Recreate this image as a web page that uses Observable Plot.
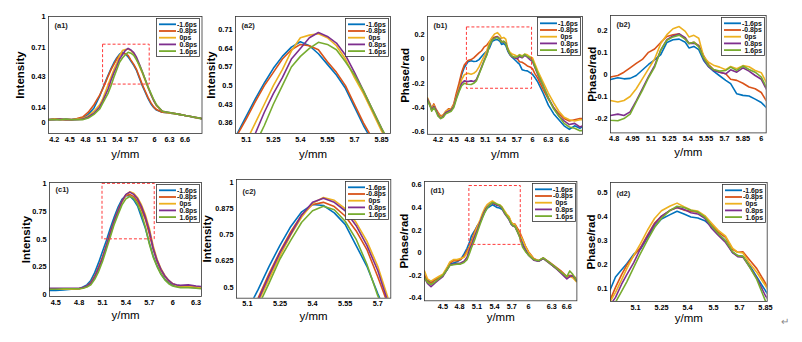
<!DOCTYPE html>
<html><head><meta charset="utf-8">
<script src="https://cdn.jsdelivr.net/npm/d3@7"></script>
<script src="https://cdn.jsdelivr.net/npm/@observablehq/plot@0.6"></script>
<style>
body{margin:0;background:#fff;}
#wrap{position:relative;width:802px;height:342px;overflow:hidden;background:#fff;font-family:"Liberation Sans",Arial,sans-serif;}
svg.pan{font-family:"Liberation Sans",Arial,sans-serif;font-size:7.3px;font-weight:bold;background:transparent !important;overflow:visible;}
svg.pan g[aria-label="x-axis label"]{font-size:11.5px;font-weight:normal;}
svg.pan g[aria-label="y-axis label"]{font-size:11.5px;font-weight:bold;}
.enter{position:absolute;left:781px;top:316px;font-size:10px;color:#888;}
</style></head><body><div id="wrap"></div>
<script>
const seriesNames = ["-1.6ps","-0.8ps","0ps","0.8ps","1.6ps"];
const seriesColors = ["#0072BD","#D95319","#EDB120","#7E2F8E","#77AC30"];

// ---- (a) intensity, delay scan 1
const xA = [4.1,4.2,4.3,4.4,4.5,4.6,4.7,4.8,4.9,5.0,5.05,5.1,5.15,5.2,5.25,5.3,5.35,5.4,5.45,5.5,5.55,5.6,5.65,5.7,5.75,5.8,5.85,5.9,5.95,6.0,6.1,6.2,6.3,6.4,6.5,6.6,6.7,6.8];
const aBlue   = [0.03,0.035,0.03,0.035,0.03,0.035,0.045,0.08,0.14,0.25,0.32,0.385,0.45,0.51,0.565,0.61,0.645,0.665,0.65,0.62,0.58,0.54,0.49,0.42,0.35,0.29,0.23,0.18,0.145,0.12,0.1,0.095,0.085,0.08,0.07,0.06,0.045,0.04];
const aOrange = [0.03,0.035,0.035,0.03,0.03,0.04,0.055,0.1,0.17,0.26,0.315,0.375,0.44,0.5,0.55,0.6,0.635,0.655,0.65,0.635,0.59,0.55,0.5,0.43,0.36,0.3,0.24,0.19,0.15,0.125,0.1,0.095,0.09,0.08,0.07,0.06,0.05,0.04];
const aYellow = [0.03,0.035,0.03,0.03,0.03,0.035,0.04,0.065,0.11,0.17,0.22,0.29,0.36,0.43,0.5,0.56,0.63,0.68,0.69,0.695,0.68,0.65,0.6,0.53,0.47,0.4,0.33,0.27,0.21,0.16,0.11,0.095,0.085,0.08,0.07,0.06,0.045,0.04];
const aPurple = [0.03,0.03,0.035,0.03,0.03,0.03,0.035,0.055,0.09,0.15,0.2,0.26,0.32,0.4,0.47,0.53,0.6,0.64,0.68,0.70,0.685,0.66,0.615,0.55,0.48,0.41,0.34,0.27,0.21,0.165,0.11,0.1,0.09,0.08,0.07,0.06,0.05,0.04];
const aGreen  = [0.03,0.03,0.03,0.035,0.03,0.03,0.03,0.045,0.08,0.13,0.18,0.23,0.28,0.35,0.43,0.5,0.57,0.61,0.64,0.663,0.655,0.635,0.59,0.54,0.48,0.41,0.34,0.28,0.22,0.17,0.11,0.1,0.09,0.08,0.07,0.06,0.05,0.04];

// ---- (b) phase, delay scan 1
const xB = [4.0,4.05,4.08,4.12,4.16,4.2,4.25,4.3,4.35,4.4,4.45,4.5,4.55,4.6,4.65,4.7,4.77,4.83,4.88,4.93,4.98,5.03,5.08,5.13,5.18,5.23,5.28,5.33,5.38,5.41,5.45,5.49,5.53,5.57,5.61,5.66,5.71,5.75,5.8,5.85,5.9,5.95,6.0,6.04,6.1,6.2,6.3,6.4,6.5,6.6,6.7,6.8,6.9,6.95];
const bBlue   = [-0.33,-0.38,-0.42,-0.38,-0.42,-0.45,-0.48,-0.47,-0.44,-0.42,-0.42,-0.38,-0.3,-0.22,-0.13,-0.07,-0.023,-0.015,-0.02,-0.018,-0.005,0.02,0.045,0.066,0.09,0.145,0.157,0.16,0.146,0.12,0.127,0.112,0.063,0.035,0.015,-0.006,-0.027,-0.042,-0.088,-0.095,-0.098,-0.112,-0.127,-0.15,-0.19,-0.28,-0.38,-0.45,-0.5,-0.55,-0.58,-0.55,-0.57,-0.56];
const bOrange = [-0.33,-0.38,-0.41,-0.37,-0.41,-0.44,-0.47,-0.46,-0.43,-0.41,-0.41,-0.37,-0.28,-0.2,-0.11,-0.05,-0.012,-0.005,0.01,0.03,0.05,0.068,0.1,0.115,0.145,0.172,0.18,0.184,0.16,0.14,0.146,0.13,0.085,0.045,0.022,0.01,0.003,-0.022,-0.027,-0.04,-0.057,-0.065,-0.082,-0.118,-0.16,-0.25,-0.33,-0.4,-0.45,-0.49,-0.51,-0.5,-0.49,-0.49];
const bYellow = [-0.32,-0.37,-0.41,-0.38,-0.42,-0.45,-0.48,-0.46,-0.43,-0.42,-0.41,-0.38,-0.31,-0.24,-0.17,-0.13,-0.118,-0.125,-0.118,-0.1,-0.065,-0.02,0.025,0.07,0.14,0.18,0.207,0.217,0.195,0.17,0.177,0.164,0.08,0.055,0.042,0.033,0.021,0.036,0.026,0.04,0.035,0.018,0.008,-0.035,-0.1,-0.19,-0.28,-0.36,-0.43,-0.48,-0.5,-0.51,-0.5,-0.5];
const bPurple = [-0.33,-0.38,-0.42,-0.39,-0.42,-0.46,-0.49,-0.47,-0.44,-0.43,-0.42,-0.39,-0.32,-0.26,-0.2,-0.18,-0.186,-0.18,-0.186,-0.17,-0.12,-0.065,-0.01,0.04,0.11,0.157,0.174,0.183,0.166,0.14,0.142,0.13,0.07,0.035,0.018,0.01,0.003,0.021,0.01,0.03,0.015,-0.005,-0.022,-0.065,-0.13,-0.22,-0.32,-0.4,-0.47,-0.51,-0.54,-0.53,-0.56,-0.55];
const bGreen  = [-0.34,-0.39,-0.43,-0.4,-0.43,-0.47,-0.49,-0.48,-0.45,-0.44,-0.43,-0.4,-0.33,-0.27,-0.22,-0.2,-0.208,-0.21,-0.2,-0.18,-0.125,-0.072,-0.015,0.033,0.11,0.155,0.17,0.178,0.16,0.14,0.146,0.125,0.075,0.04,0.022,0.015,0.018,0.033,0.018,0.038,0.022,0.01,-0.012,-0.057,-0.12,-0.22,-0.32,-0.41,-0.47,-0.53,-0.56,-0.57,-0.59,-0.59];

// ---- (c) intensity, delay scan 2
const xC = [4.42,4.5,4.6,4.7,4.8,4.85,4.9,4.95,5.0,5.05,5.1,5.15,5.2,5.25,5.3,5.35,5.4,5.45,5.5,5.55,5.6,5.65,5.7,5.75,5.8,5.85,5.9,5.95,6.0,6.05,6.1,6.2,6.3,6.37];
const cBlue   = [0.04,0.04,0.045,0.05,0.055,0.07,0.09,0.13,0.2,0.29,0.39,0.49,0.6,0.70,0.79,0.86,0.895,0.89,0.855,0.8,0.7,0.6,0.47,0.35,0.26,0.19,0.14,0.11,0.09,0.078,0.072,0.07,0.065,0.06];
const cOrange = [0.05,0.05,0.05,0.05,0.055,0.065,0.08,0.11,0.17,0.25,0.34,0.45,0.565,0.67,0.765,0.845,0.895,0.905,0.885,0.84,0.77,0.68,0.55,0.41,0.3,0.22,0.165,0.125,0.1,0.085,0.075,0.075,0.07,0.065];
const cYellow = [0.05,0.05,0.05,0.05,0.055,0.06,0.075,0.1,0.155,0.23,0.32,0.43,0.54,0.65,0.75,0.835,0.9,0.928,0.915,0.875,0.81,0.72,0.6,0.44,0.32,0.235,0.175,0.13,0.1,0.085,0.075,0.075,0.07,0.065];
const cPurple = [0.06,0.06,0.06,0.06,0.06,0.065,0.08,0.105,0.16,0.24,0.33,0.44,0.555,0.665,0.755,0.845,0.905,0.925,0.905,0.865,0.795,0.7,0.58,0.42,0.31,0.23,0.17,0.13,0.1,0.09,0.085,0.09,0.08,0.075];
const cGreen  = [0.05,0.05,0.055,0.055,0.055,0.06,0.07,0.09,0.14,0.21,0.3,0.41,0.52,0.635,0.725,0.81,0.865,0.886,0.87,0.815,0.73,0.61,0.46,0.34,0.255,0.185,0.135,0.1,0.08,0.07,0.065,0.065,0.06,0.055];

// ---- (d) phase, delay scan 2
const xD = [4.19,4.24,4.3,4.36,4.43,4.5,4.57,4.62,4.68,4.74,4.8,4.86,4.91,4.956,4.985,5.02,5.05,5.09,5.13,5.17,5.21,5.25,5.3,5.34,5.38,5.42,5.46,5.5,5.54,5.58,5.62,5.66,5.69,5.72,5.76,5.8,5.85,5.9,5.95,6.04,6.12,6.2,6.3,6.4,6.5,6.6,6.65,6.7,6.77];
const dBlue   = [-0.2,-0.24,-0.26,-0.24,-0.22,-0.2,-0.15,-0.1,-0.09,-0.08,-0.06,-0.01,0.04,0.1,0.15,0.18,0.205,0.245,0.267,0.315,0.36,0.392,0.41,0.424,0.413,0.4,0.396,0.385,0.36,0.329,0.301,0.252,0.239,0.236,0.197,0.15,0.093,0.04,-0.01,-0.06,-0.075,-0.05,-0.09,-0.13,-0.17,-0.22,-0.2,-0.21,-0.25];
const dOrange = [-0.2,-0.25,-0.27,-0.24,-0.22,-0.2,-0.14,-0.09,-0.07,-0.07,-0.06,-0.03,0.02,0.058,0.107,0.16,0.2,0.239,0.274,0.326,0.375,0.403,0.428,0.44,0.429,0.424,0.42,0.403,0.366,0.336,0.315,0.266,0.253,0.255,0.22,0.185,0.124,0.06,0.01,-0.05,-0.07,-0.045,-0.08,-0.12,-0.16,-0.21,-0.2,-0.2,-0.23];
const dYellow = [-0.16,-0.23,-0.25,-0.23,-0.21,-0.19,-0.13,-0.08,-0.06,-0.06,-0.05,-0.04,0.0,0.05,0.086,0.138,0.185,0.24,0.29,0.346,0.394,0.426,0.446,0.458,0.443,0.429,0.425,0.406,0.374,0.343,0.32,0.27,0.253,0.25,0.205,0.17,0.114,0.055,0.005,-0.055,-0.07,-0.05,-0.09,-0.13,-0.17,-0.22,-0.21,-0.22,-0.26];
const dPurple = [-0.22,-0.27,-0.3,-0.27,-0.24,-0.21,-0.15,-0.11,-0.1,-0.095,-0.09,-0.075,-0.04,0.035,0.065,0.12,0.16,0.21,0.27,0.32,0.37,0.404,0.428,0.44,0.432,0.418,0.413,0.395,0.352,0.322,0.294,0.252,0.235,0.233,0.19,0.145,0.072,0.02,-0.02,-0.065,-0.075,-0.05,-0.09,-0.13,-0.18,-0.23,-0.21,-0.2,-0.25];
const dGreen  = [-0.22,-0.26,-0.28,-0.26,-0.23,-0.2,-0.15,-0.11,-0.105,-0.1,-0.1,-0.085,-0.06,0.0,0.045,0.09,0.13,0.19,0.25,0.305,0.356,0.395,0.428,0.445,0.44,0.428,0.421,0.4,0.362,0.329,0.301,0.256,0.239,0.236,0.19,0.14,0.05,0.01,-0.02,-0.06,-0.07,-0.045,-0.085,-0.125,-0.17,-0.21,-0.16,-0.19,-0.25];

// ---- zoom windows (x1, x2, y1, y2) marked in the overview panels
const a1Box = [5.06, 5.88, 0.36, 0.735];
const b1Box = [4.75, 5.99, -0.245, 0.26];
const c1Box = [5.1, 5.77, 0.5, 1.0];
const d1Box = [4.95, 5.82, 0.07, 0.59];

// ---- tick values and labels
const a1XTicks = [4.202,4.475,4.751,5.032,5.31,5.586,5.965,6.228,6.501];
const a1XLabels = ["4.2","4.5","4.8","5.1","5.4","5.7","6","6.3","6.6"];
const a1YTicks = [0,0.14,0.43,0.71,1];
const a2XTicks = [5.1,5.25,5.4,5.55,5.7,5.85];
const a2XLabels = ["5.1","5.25","5.4","5.55","5.7","5.85"];
const a2YTicks = [0.36,0.43,0.5,0.57,0.64,0.71];
const b1XTicks = [4.2,4.5,4.8,5.1,5.4,5.7,6.0,6.3,6.6];
const b1XLabels = ["4.2","4.5","4.8","5.1","5.4","5.7","6","6.3","6.6"];
const b1YTicks = [-0.6,-0.4,-0.2,0,0.2];
const b2XTicks = [4.8,4.95,5.1,5.25,5.4,5.55,5.7,5.85,6.0];
const b2XLabels = ["4.8","4.95","5.1","5.25","5.4","5.55","5.7","5.85","6"];
const b2YTicks = [-0.2,-0.1,0,0.1,0.2];
const c1XTicks = [4.5,4.8,5.1,5.4,5.7,6.0,6.3];
const c1XLabels = ["4.5","4.8","5.1","5.4","5.7","6","6.3"];
const c1YTicks = [0,0.25,0.5,0.75,1];
const c2XTicks = [5.1,5.25,5.4,5.55,5.7];
const c2XLabels = ["5.1","5.25","5.4","5.55","5.7"];
const c2YTicks = [0.5,0.625,0.75,0.875,1];
const d1XTicks = [4.501,4.782,5.077,5.375,5.669,5.95,6.346,6.6];
const d1XLabels = ["4.5","4.8","5.1","5.4","5.7","6","6.3","6.6"];
const d1YTicks = [-0.4,-0.2,0,0.2,0.4,0.6];
const d2XTicks = [5.1,5.25,5.4,5.55,5.7,5.85];
const d2XLabels = ["5.1","5.25","5.4","5.5","5.7","5.85"];
const d2YTicks = [0.1,0.2,0.3,0.4,0.5];

function rows(xs, ys) {
  const out = [];
  ys.forEach((arr, k) => arr.forEach((v, i) => out.push({x: xs[i], y: v, s: seriesNames[k]})));
  return out;
}
const dataA = rows(xA, [aBlue, aOrange, aYellow, aPurple, aGreen]);
const dataB = rows(xB, [bBlue, bOrange, bYellow, bPurple, bGreen]);
const dataC = rows(xC, [cBlue, cOrange, cYellow, cPurple, cGreen]);
const dataD = rows(xD, [dBlue, dOrange, dYellow, dPurple, dGreen]);

const wrap = document.getElementById("wrap");

const panels = [
  {tag:"(a1)", data:dataA, frame:{l:47.5,t:16,r:201,b:133}, xDomain:[4.1,6.8], yDomain:[-0.1,1], xTicks:a1XTicks, xLabels:a1XLabels, yTicks:a1YTicks, box:a1Box, yLabel:"Intensity", ylabX:15, xlabOff:24, tagDy:9},
  {tag:"(a2)", data:dataA, frame:{l:235,t:16,r:390,b:133}, xDomain:[5.04,5.9], yDomain:[0.32,0.76], xTicks:a2XTicks, xLabels:a2XLabels, yTicks:a2YTicks, yLabel:"Intensity", ylabX:206, xlabOff:24, tagDy:9},
  {tag:"(b1)", data:dataB, frame:{l:426.7,t:15.5,r:581.7,b:133.3}, xDomain:[4.0,6.95], yDomain:[-0.62,0.35], xTicks:b1XTicks, xLabels:b1XLabels, yTicks:b1YTicks, box:b1Box, yLabel:"Phase/rad", ylabX:400.5, xlabOff:24, tagDy:9},
  {tag:"(b2)", data:dataB, frame:{l:610,t:15.3,r:765.7,b:132.7}, xDomain:[4.77,6.04], yDomain:[-0.265,0.267], xTicks:b2XTicks, xLabels:b2XLabels, yTicks:b2YTicks, yLabel:"Phase/rad", ylabX:587, xlabOff:23, tagDy:9},
  {tag:"(c1)", data:dataC, frame:{l:49,t:182,r:201,b:296}, xDomain:[4.42,6.37], yDomain:[-0.015,1.012], xTicks:c1XTicks, xLabels:c1XLabels, yTicks:c1YTicks, box:c1Box, yLabel:"Intensity", ylabX:21, xlabOff:22, tagDy:7},
  {tag:"(c2)", data:dataC, frame:{l:235.7,t:179,r:390,b:297.7}, xDomain:[5.05,5.76], yDomain:[0.448,1.014], xTicks:c2XTicks, xLabels:c2XLabels, yTicks:c2YTicks, yLabel:"Intensity", ylabX:202, xlabOff:22, tagDy:12},
  {tag:"(d1)", data:dataD, frame:{l:424.3,t:180.7,r:576.7,b:300}, xDomain:[4.19,6.77], yDomain:[-0.424,0.63], xTicks:d1XTicks, xLabels:d1XLabels, yTicks:d1YTicks, box:d1Box, yLabel:"Phase/rad", ylabX:399.5, xlabOff:20, tagDy:9},
  {tag:"(d2)", data:dataD, frame:{l:610,t:181.7,r:766.7,b:300.7}, xDomain:[4.956,5.86], yDomain:[0.048,0.544], xTicks:d2XTicks, xLabels:d2XLabels, yTicks:d2YTicks, yLabel:"Phase/rad", ylabX:586.5, xlabOff:21, tagDy:11}
];

function panel(p) {
  const mL = 50, mR = 4, mT = 4, mB = 34;
  const fw = p.frame.r - p.frame.l, fh = p.frame.b - p.frame.t;
  const xLab = new Map(p.xTicks.map((v, i) => [v, p.xLabels[i]]));
  const chart = Plot.plot({
    width: fw + mL + mR, height: fh + mT + mB,
    marginLeft: mL, marginRight: mR, marginTop: mT, marginBottom: mB,
    className: "pan",
    style: {background: "transparent", overflow: "visible"},
    x: {domain: p.xDomain, ticks: p.xTicks, tickFormat: d => xLab.get(d), tickSize: 0, tickPadding: 3,
        label: "y/mm", labelAnchor: "center", labelOffset: p.xlabOff, labelArrow: "none"},
    y: {domain: p.yDomain, ticks: p.yTicks, tickFormat: d => String(d), tickSize: 0, tickPadding: 3,
        label: p.yLabel, labelAnchor: "center", labelOffset: p.frame.l - p.ylabX, labelArrow: "none"},
    color: {domain: seriesNames, range: seriesColors},
    marks: [
      Plot.line(p.data, {x: "x", y: "y", z: "s", stroke: "s", strokeWidth: 1.6, clip: true}),
      p.box ? Plot.rect([p.box], {x1: d => d[0], x2: d => d[1], y1: d => d[2], y2: d => d[3],
        fill: "none", stroke: "#ff3838", strokeWidth: 1, strokeDasharray: "3,2"}) : null,
      Plot.frame({stroke: "#333", strokeWidth: 0.8}),
      Plot.text([p.tag], {text: d => d, frameAnchor: "top-left", dx: 6, dy: p.tagDy,
        textAnchor: "start", lineAnchor: "middle", fontSize: 7.5, fontWeight: "bold", fill: "#222"})
    ]
  });
  chart.style.position = "absolute";
  chart.style.left = (p.frame.l - mL) + "px";
  chart.style.top = (p.frame.t - mT) + "px";
  wrap.append(chart);

  // legend box
  const lw = 44, lh = 39;
  const lg = d3.create("svg").attr("width", lw).attr("height", lh)
    .style("position", "absolute")
    .style("left", (p.frame.r - lw - 1.2) + "px")
    .style("top", (p.frame.t + 1.8) + "px")
    .style("font-family", "'Liberation Sans', Arial, sans-serif");
  lg.append("rect").attr("x", 0.5).attr("y", 0.5).attr("width", lw - 1).attr("height", lh - 1)
    .attr("fill", "#fff").attr("stroke", "#333").attr("stroke-width", 0.8);
  seriesNames.forEach((n, i) => {
    const y = 6.3 + i * 6.7;
    lg.append("line").attr("x1", 3).attr("x2", 20).attr("y1", y).attr("y2", y)
      .attr("stroke", seriesColors[i]).attr("stroke-width", 1.8);
    lg.append("text").attr("x", n.startsWith("-") ? 21 : 23.5).attr("y", y).attr("dy", "0.35em")
      .attr("font-size", 6.9).attr("font-weight", "bold").attr("fill", "#111").text(n);
  });
  wrap.append(lg.node());
}
panels.forEach(panel);

const mark = document.createElement("div");
mark.className = "enter";
mark.textContent = "\u21B5";
wrap.append(mark);
</script>
</body></html>
